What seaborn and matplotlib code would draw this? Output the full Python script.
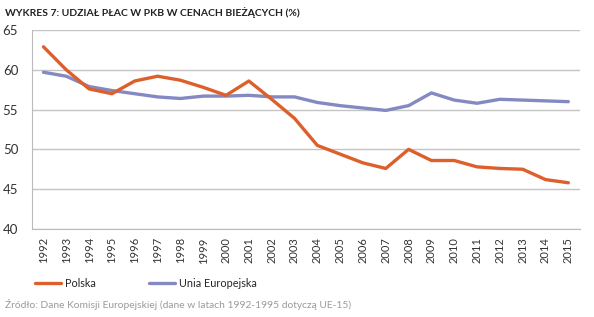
import matplotlib
matplotlib.use("Agg")
import matplotlib.pyplot as plt
from matplotlib.lines import Line2D
import seaborn as sns
import pandas as pd
import numpy as np

years = [str(y) for y in range(1992, 2016)]
polska = [62.9, 60.0, 57.6, 57.0, 58.6, 59.2, 58.7, 57.8, 56.8, 58.6, 56.3, 53.9,
          50.5, 49.4, 48.3, 47.6, 50.0, 48.6, 48.6, 47.8, 47.6, 47.5, 46.2, 45.8]
ue = [59.7, 59.2, 57.9, 57.4, 57.0, 56.6, 56.4, 56.7, 56.7, 56.8, 56.6, 56.6,
      55.9, 55.5, 55.2, 54.9, 55.5, 57.1, 56.2, 55.8, 56.3, 56.2, 56.1, 56.0]
series_names = ["Polska", "Unia Europejska"]
y_ticks = [40, 45, 50, 55, 60, 65]
title = "WYKRES 7: UDZIAŁ PŁAC W PKB W CENACH BIEŻĄCYCH (%)"
source = "Źródło: Dane Komisji Europejskiej (dane w latach 1992-1995 dotyczą UE-15)"

colors = {"Polska": "#DD5F2B", "Unia Europejska": "#8589C2"}

df = pd.DataFrame({
    "idx": list(range(len(years))) * 2,
    "value": polska + ue,
    "series": [series_names[0]] * len(years) + [series_names[1]] * len(years),
})

sns.set_style("white")
plt.rcParams["font.family"] = ["Lato", "DejaVu Sans"]

fig = plt.figure(figsize=(5.94, 3.17), dpi=100)
ax = fig.add_axes([0.054, 0.278, 0.922, 0.627])

# draw EU first so Polska is on top
sns.lineplot(data=df, x="idx", y="value", hue="series", hue_order=series_names[::-1],
             palette=colors, linewidth=2.4, legend=False, ax=ax)
for ln in ax.get_lines():
    ln.set_solid_joinstyle("round")

ax.set_xlim(-0.5, len(years) - 0.5)
ax.set_ylim(40, 65)
ax.set_yticks(y_ticks)
ax.set_yticklabels([str(t) for t in y_ticks], fontsize=9.5, color="#333333")
ax.yaxis.grid(True, color="#C4C4C4", linewidth=1.0)
ax.set_axisbelow(True)

ax.set_xticks(range(len(years)))
ax.set_xticklabels(years, rotation=90, fontsize=8, color="#333333")
ax.tick_params(axis="x", which="major", length=0, pad=6)
ax.set_xticks(np.arange(-0.5, len(years), 1.0), minor=True)
ax.tick_params(axis="x", which="minor", length=5, color="#BBBBBB", width=1)
ax.tick_params(axis="y", length=0, pad=10)

for s in ["top", "right"]:
    ax.spines[s].set_visible(False)
ax.spines["left"].set_color("#BBBBBB")
ax.spines["bottom"].set_color("#BBBBBB")
ax.set_xlabel("")
ax.set_ylabel("")

fig.text(0.008, 0.962, title, fontsize=7.5, fontweight="bold", color="#222222", va="center")

handles = [Line2D([0], [0], color=colors[n], linewidth=2.4) for n in series_names]
fig.legend(handles, series_names, loc="center left", bbox_to_anchor=(0.042, 0.107),
           ncol=2, frameon=False, fontsize=7.8, handlelength=2.4, handletextpad=0.4,
           columnspacing=4.9)

fig.text(0.008, 0.04, source, fontsize=7.4, color="#9A9A9A", va="center")

fig.savefig("out.png", dpi=100)
